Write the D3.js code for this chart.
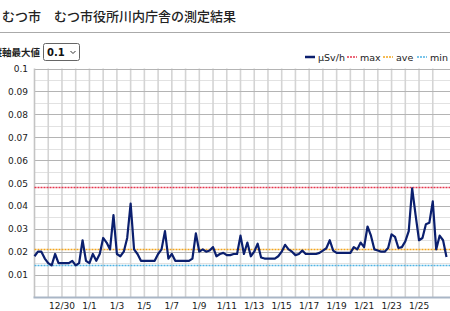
<!DOCTYPE html>
<html>
<head>
<meta charset="utf-8">
<script src="https://cdn.jsdelivr.net/npm/d3@7"></script>
<style>
  body { margin: 0; background: #fff; overflow: hidden; }
  svg { display: block; }
</style>
</head>
<body>
<div id="chart"></div>
<script>
const W = 450
const H = 311

// 6-hourly readings (μSv/h), starting 12/28 00:00
const startDate = Date.UTC(2019, 11, 28)
const stepHours = 6
const usvh = [
  0.018, 0.020, 0.020, 0.017, 0.015, 0.014, 0.019, 0.015, 0.015, 0.015,
  0.015, 0.016, 0.014, 0.015, 0.025, 0.016, 0.015, 0.019, 0.016, 0.019,
  0.026, 0.024, 0.021, 0.036, 0.019, 0.018, 0.020, 0.026, 0.041, 0.021,
  0.019, 0.016, 0.016, 0.016, 0.016, 0.016, 0.019, 0.021, 0.029, 0.017,
  0.019, 0.016, 0.016, 0.016, 0.016, 0.016, 0.017, 0.028, 0.020, 0.021,
  0.020, 0.0205, 0.022, 0.018, 0.019, 0.0195, 0.0185, 0.0185, 0.019, 0.019,
  0.027, 0.019, 0.024, 0.018, 0.020, 0.0235, 0.0175, 0.017, 0.017, 0.017,
  0.017, 0.018, 0.020, 0.023, 0.021, 0.020, 0.0185, 0.019, 0.0205, 0.019,
  0.019, 0.019, 0.019, 0.0195, 0.0205, 0.0215, 0.025, 0.0205, 0.0195, 0.0195,
  0.0195, 0.0195, 0.0195, 0.022, 0.021, 0.024, 0.022, 0.031, 0.027, 0.021,
  0.0205, 0.020, 0.020, 0.0216, 0.0276, 0.0265, 0.0216, 0.022, 0.0245, 0.029,
  0.0477, 0.036, 0.025, 0.026, 0.032, 0.0326, 0.042, 0.021, 0.027, 0.025,
  0.0177
]
const maxVal = 0.048
const aveVal = 0.021
const minVal = 0.014

const yTicks = [0.01, 0.02, 0.03, 0.04, 0.05, 0.06, 0.07, 0.08, 0.09, 0.1]
const yTickLabels = ["0.01", "0.02", "0.03", "0.04", "0.05", "0.06", "0.07", "0.08", "0.09", "0.1"]
const xTickLabels = ["12/30", "1/1", "1/3", "1/5", "1/7", "1/9", "1/11", "1/13", "1/15", "1/17", "1/19", "1/21", "1/23", "1/25"]

const legendNames = ["μSv/h", "max", "ave", "min"]
const legendColors = ["#0b1f6e", "#e5374f", "#f2a51e", "#4fb3e3"]

const data = usvh.map((v, i) => ({ t: new Date(startDate + i * stepHours * 3600e3), v: v }))

const svg = d3.select("#chart").append("svg")
  .attr("width", W)
  .attr("height", H)

const plotL = 34.5, plotR = 446.5, plotT = 68.5, plotB = 297.5

const x = d3.scaleUtc()
  .domain(d3.extent(data, d => d.t))
  .range([plotL, plotR])
const y = d3.scaleLinear()
  .domain([0, 0.1])
  .range([plotB, plotT])

// title
svg.append("text")
  .attr("x", 2).attr("y", 21)
  .attr("font-family", "Noto Sans CJK JP")
  .attr("font-weight", 500)
  .attr("font-size", 13)
  .attr("fill", "#222")
  .text("むつ市　むつ市役所川内庁舎の測定結果")

svg.append("line")
  .attr("x1", 0).attr("x2", W)
  .attr("y1", 32.5).attr("y2", 32.5)
  .attr("stroke", "#aaa")

// y-axis max selector
svg.append("text")
  .attr("x", 40).attr("y", 56)
  .attr("text-anchor", "end")
  .attr("font-family", "Noto Sans CJK JP")
  .attr("font-weight", "bold")
  .attr("font-size", 9.5)
  .attr("fill", "#222")
  .text("縦軸最大値")

svg.append("rect")
  .attr("x", 43.5).attr("y", 43.5)
  .attr("width", 36).attr("height", 17)
  .attr("rx", 2)
  .attr("fill", "#fff")
  .attr("stroke", "#666")
svg.append("text")
  .attr("x", 47).attr("y", 56)
  .attr("font-family", "DejaVu Sans")
  .attr("font-weight", "bold")
  .attr("font-size", 10)
  .attr("fill", "#111")
  .text("0.1")
svg.append("path")
  .attr("d", "M70.5,51 L73,53.5 L75.5,51")
  .attr("fill", "none")
  .attr("stroke", "#333")

// grid
const minor = d3.range(0.005, 0.1, 0.01)
svg.append("g").selectAll("line")
  .data(minor)
  .enter().append("line")
  .attr("x1", plotL).attr("x2", W)
  .attr("y1", d => Math.round(y(d)) + 0.5).attr("y2", d => Math.round(y(d)) + 0.5)
  .attr("stroke", "#e2e2e2")

const days = d3.utcDay.range(x.domain()[0], x.domain()[1])
svg.append("g").selectAll("line")
  .data(days.slice(1))
  .enter().append("line")
  .attr("x1", d => x(d)).attr("x2", d => x(d))
  .attr("y1", plotT).attr("y2", plotB)
  .attr("stroke", "#d4d4d4")
  .attr("stroke-width", 1.6)

svg.append("g").selectAll("line")
  .data(yTicks)
  .enter().append("line")
  .attr("x1", plotL).attr("x2", W)
  .attr("y1", d => Math.round(y(d)) + 0.5).attr("y2", d => Math.round(y(d)) + 0.5)
  .attr("stroke", "#b4b4b4")

// axes
svg.append("line")
  .attr("x1", plotL).attr("x2", plotL)
  .attr("y1", plotT).attr("y2", plotB)
  .attr("stroke", "#c4c4c4")
  .attr("stroke-width", 1.6)
svg.append("line")
  .attr("x1", plotL - 1).attr("x2", W)
  .attr("y1", plotB).attr("y2", plotB)
  .attr("stroke", "#a9b6c6")
  .attr("stroke-width", 2)

svg.append("g").selectAll("text")
  .data(yTicks)
  .enter().append("text")
  .attr("x", 28)
  .attr("y", d => y(d) + 3.5)
  .attr("text-anchor", "end")
  .attr("font-family", "DejaVu Sans")
  .attr("font-size", 9)
  .attr("fill", "#1a1a1a")
  .text((d, i) => yTickLabels[i])

// labels every second day, starting 12/30
const xTicks = d3.utcDay.range(d3.utcDay.offset(x.domain()[0], 2), x.domain()[1], 2)
svg.append("g").selectAll("text")
  .data(xTicks.slice(0, xTickLabels.length))
  .enter().append("text")
  .attr("x", d => x(d))
  .attr("y", 309)
  .attr("text-anchor", "middle")
  .attr("font-family", "DejaVu Sans")
  .attr("font-size", 9)
  .attr("fill", "#1a1a1a")
  .text((d, i) => xTickLabels[i])

// cropped axis title at far left
svg.append("text")
  .attr("transform", "translate(-6," + y(0.05) + ") rotate(-90)")
  .attr("text-anchor", "middle")
  .attr("font-family", "Noto Sans CJK JP")
  .attr("font-size", 11)
  .attr("fill", "#4aa3d6")
  .text("空間線量率（μSv/h）")

// reference lines
const refs = [maxVal, aveVal, minVal]
svg.append("g").selectAll("line")
  .data(refs)
  .enter().append("line")
  .attr("x1", plotL).attr("x2", W)
  .attr("y1", d => y(d)).attr("y2", d => y(d))
  .attr("stroke", (d, i) => legendColors[i + 1])
  .attr("stroke-width", 1.5)
  .attr("stroke-dasharray", "2,1")

// series
const line = d3.line()
  .x(d => x(d.t))
  .y(d => y(d.v))
svg.append("path")
  .datum(data)
  .attr("d", line)
  .attr("fill", "none")
  .attr("stroke", legendColors[0])
  .attr("stroke-width", 2.2)
  .attr("stroke-linejoin", "round")

// legend
const legendX = [305, 347, 383, 417]
const lg = svg.append("g").selectAll("g")
  .data(legendNames)
  .enter().append("g")
  .attr("transform", (d, i) => "translate(" + legendX[i] + ",57)")
lg.append("line")
  .attr("x1", 0).attr("x2", 10)
  .attr("stroke", (d, i) => legendColors[i])
  .attr("stroke-width", (d, i) => i == 0 ? 2.5 : 1.5)
  .attr("stroke-dasharray", (d, i) => i == 0 ? null : "2,1")
lg.append("text")
  .attr("x", 13).attr("y", 3.5)
  .attr("font-family", "DejaVu Sans")
  .attr("font-size", 9.5)
  .attr("fill", "#222")
  .text(d => d)
</script>
</body>
</html>
